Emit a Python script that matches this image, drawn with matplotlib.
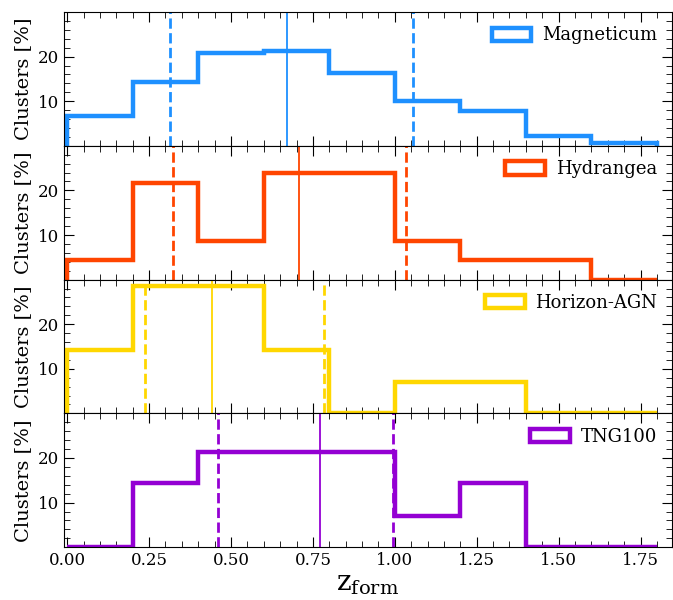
import numpy as np
import matplotlib.pyplot as plt
from matplotlib.ticker import MultipleLocator

plt.rcParams['font.family'] = 'DejaVu Serif'
plt.rcParams['mathtext.fontset'] = 'dejavuserif'

# formation redshift bins
edges = np.arange(0, 1.81, 0.2)

names = ['Magneticum', 'Hydrangea', 'Horizon-AGN', 'TNG100']
colors = ['#1E90FF', '#FF4500', '#FFD700', '#9400D3']

# percentage of clusters per bin
magneticum = [6.7, 14.4, 20.9, 21.3, 16.4, 10.1, 7.7, 2.1, 0.7]
hydrangea = [4.3, 21.7, 8.7, 23.9, 23.9, 8.7, 4.3, 4.3, 0.0]
horizon = [14.3, 28.6, 28.6, 14.3, 0.0, 7.1, 7.1, 0.0, 0.0]
tng100 = [0.0, 14.3, 21.4, 21.4, 21.4, 7.1, 14.3, 0.0, 0.0]
fractions = [magneticum, hydrangea, horizon, tng100]

# median (solid) and 16th/84th percentiles (dashed)
medians = [0.67, 0.707, 0.443, 0.773]
lower = [0.314, 0.323, 0.236, 0.461]
upper = [1.056, 1.034, 0.785, 0.995]

fig, axes = plt.subplots(4, 1, sharex=True, figsize=(6.73, 6.0), dpi=100)
fig.subplots_adjust(left=0.095, right=0.998, top=0.98, bottom=0.088, hspace=0)

centers = 0.5 * (edges[:-1] + edges[1:])

for i, ax in enumerate(axes):
    ax.hist(centers, bins=edges, weights=fractions[i], histtype='step',
            color=colors[i], lw=3.2, label=names[i])
    ax.axvline(medians[i], color=colors[i], lw=1.3)
    ax.axvline(lower[i], color=colors[i], lw=2, ls='--')
    ax.axvline(upper[i], color=colors[i], lw=2, ls='--')

    ax.set_xlim(-0.01, 1.845)
    ax.set_ylim(0, 30)
    ax.set_yticks([10, 20])
    ax.yaxis.set_minor_locator(MultipleLocator(2))
    ax.xaxis.set_major_locator(MultipleLocator(0.25))
    ax.xaxis.set_minor_locator(MultipleLocator(0.05))
    ax.tick_params(which='both', direction='in', top=True, right=True, labelsize=12)
    ax.tick_params(which='major', length=7)
    ax.tick_params(which='minor', length=4)
    ax.set_ylabel('Clusters [%]', fontsize=14)
    ax.legend(loc='upper right', frameon=False, fontsize=13,
              handlelength=2.2, handleheight=0.75, handletextpad=0.6,
              borderaxespad=0.4)

axes[-1].set_xlabel(r'$\rm z_{form}$', fontsize=20, labelpad=1)

plt.savefig('out.png', dpi=100)
